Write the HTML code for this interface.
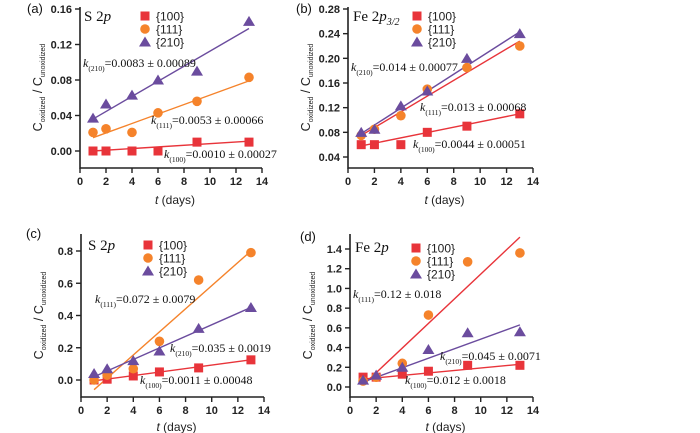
<!DOCTYPE html>
<html><head><meta charset="utf-8"><style>
html,body{margin:0;padding:0;background:#fff}
svg{display:block}
text{font-family:"Liberation Sans",Arial,sans-serif}
.ser{font-family:"Liberation Serif",serif}
</style></head><body>
<svg id="c" width="700" height="433" viewBox="0 0 700 433" xmlns="http://www.w3.org/2000/svg"></svg>
<script>
const days = [1, 2, 4, 6, 9, 13];
const facets = ['{100}', '{111}', '{210}'];
// panel a
const a100 = [0, 0, 0, 0, 0.01, 0.01];
const a111 = [0.021, 0.025, 0.021, 0.043, 0.056, 0.083];
const a210 = [0.037, 0.053, 0.063, 0.08, 0.09, 0.146];
const aFitStart = [0.0, 0.015, 0.036];
const aFitEnd = [0.011, 0.079, 0.138];
const aTicks = [0, 0.04, 0.08, 0.12, 0.16];
const aTickLabels = ['0.00', '0.04', '0.08', '0.12', '0.16'];
// panel b
const b100 = [0.06, 0.06, 0.06, 0.08, 0.09, 0.11];
const b111 = [0.075, 0.085, 0.107, 0.15, 0.185, 0.22];
const b210 = [0.08, 0.085, 0.123, 0.147, 0.2, 0.24];
const bFitStart = [0.058, 0.075, 0.078];
const bFitEnd = [0.11, 0.228, 0.243];
const bTicks = [0.04, 0.08, 0.12, 0.16, 0.2, 0.24, 0.28];
const bTickLabels = ['0.04', '0.08', '0.12', '0.16', '0.20', '0.24', '0.28'];
// panel c
const c100 = [0, 0.005, 0.025, 0.05, 0.075, 0.125];
const c111 = [0, 0.03, 0.07, 0.24, 0.62, 0.79];
const c210 = [0.04, 0.07, 0.12, 0.18, 0.32, 0.45];
const cFitStart = [-0.005, -0.06, 0.02];
const cFitEnd = [0.125, 0.8, 0.45];
const cTicks = [0, 0.2, 0.4, 0.6, 0.8];
const cTickLabels = ['0.0', '0.2', '0.4', '0.6', '0.8'];
// panel d
const d100 = [0.1, 0.1, 0.13, 0.16, 0.22, 0.22];
const d111 = [0.06, 0.1, 0.24, 0.73, 1.27, 1.36];
const d210 = [0.07, 0.12, 0.2, 0.38, 0.55, 0.56];
const dFitStart = [0.08, 0.02, 0.05];
const dFitEnd = [0.23, 1.52, 0.63];
const dTicks = [0, 0.2, 0.4, 0.6, 0.8, 1.0, 1.2, 1.4];
const dTickLabels = ['0.0', '0.2', '0.4', '0.6', '0.8', '1.0', '1.2', '1.4'];
const xTicks = [0, 2, 4, 6, 8, 10, 12, 14];

const NS = 'http://www.w3.org/2000/svg';
const svg = document.getElementById('c');
const RED = '#e8343a', ORG = '#f5832b', PUR = '#6b4c9e';
function mk(tag, attrs, parent) {
  const e = document.createElementNS(NS, tag);
  for (const k in attrs) e.setAttribute(k, attrs[k]);
  (parent || svg).appendChild(e);
  return e;
}
function marker(g, kind, x, y, col) {
  let e;
  if (kind === 0) e = mk('rect', {x: x - 4.5, y: y - 4.5, width: 9, height: 9, fill: col}, g);
  else if (kind === 1) e = mk('circle', {cx: x, cy: y, r: 4.8, fill: col}, g);
  else e = mk('polygon', {points: `${x},${y - 5.5} ${x + 6},${y + 4.5} ${x - 6},${y + 4.5}`, fill: col}, g);
  return e;
}
function kLabel(g, x, y, sub, txt) {
  const t = mk('text', {x: x, y: y, 'font-size': 12, class: 'ser', fill: '#111'}, g);
  t.innerHTML = `<tspan font-style="italic">k</tspan><tspan font-size="7.5" dy="4">(${sub})</tspan><tspan dy="-4">=${txt}</tspan>`;
  
  
}
function panel(cfg) {
  const g = mk('g', {});
  
  
  const X = v => cfg.x0 + (v - 0) * (cfg.x14 - cfg.x0) / 14;
  const Y = v => cfg.yA + (v - cfg.vA) * (cfg.yB - cfg.yA) / (cfg.vB - cfg.vA);
  const ax = mk('path', {d: `M${cfg.x0},${cfg.top} V${cfg.axY} H${cfg.x14}`, stroke: '#222', 'stroke-width': 1.6, fill: 'none'}, g);
  
  
  cfg.yTicks.forEach((v, i) => {
    const y = Y(v);
    mk('line', {x1: cfg.x0 - 5, x2: cfg.x0, y1: y, y2: y, stroke: '#222', 'stroke-width': 1.4}, g);
    const t = mk('text', {x: cfg.x0 - 8, y: y + 4, 'font-size': 11, 'font-weight': 'bold', 'text-anchor': 'end', fill: '#222'}, g);
    t.textContent = cfg.yLabels[i];
    
    
  });
  xTicks.forEach(v => {
    const x = X(v);
    mk('line', {x1: x, x2: x, y1: cfg.axY, y2: cfg.axY + 5, stroke: '#222', 'stroke-width': 1.4}, g);
    const t = mk('text', {x: x, y: cfg.axY + 17, 'font-size': 11, 'font-weight': 'bold', 'text-anchor': 'middle', fill: '#222'}, g);
    t.textContent = v;
    
    
  });
  const xt = mk('text', {x: (cfg.x0 + cfg.x14) / 2 + 4, y: cfg.axY + cfg.xtOff, 'font-size': 12, 'text-anchor': 'middle', fill: '#222'}, g);
  xt.innerHTML = '<tspan font-style="italic">t</tspan> (days)';
  
  
  const cy = (cfg.top + cfg.axY) / 2;
  const yt = mk('text', {x: 0, y: 0, 'font-size': 12.5, 'text-anchor': 'middle', fill: '#222', transform: `translate(${cfg.x0 - 38},${cy}) rotate(-90)`}, g);
  yt.innerHTML = 'C<tspan font-size="7" dy="3">oxidized</tspan><tspan dy="-3"> / C</tspan><tspan font-size="7" dy="3">unoxidized</tspan>';
  
  
  const lt = mk('text', {x: cfg.letter[0], y: cfg.letter[1], 'font-size': 13, fill: '#111'}, g);
  lt.textContent = '(' + cfg.id + ')';
  
  
  const tt = mk('text', {x: cfg.title[0], y: cfg.title[1], 'font-size': 15, class: 'ser', fill: '#111'}, g);
  tt.innerHTML = cfg.titleHtml;
  
  
  const lineCols = cfg.lineCols;
  cfg.fitStart.forEach((s, i) => {
    const l = mk('line', {x1: X(1), y1: Y(s), x2: X(13), y2: Y(cfg.fitEnd[i]), stroke: lineCols[i], 'stroke-width': 1.4}, g);
    
    
  });
  const cols = [RED, ORG, PUR];
  cfg.series.forEach((arr, k) => {
    arr.forEach((v, i) => {
      const m = marker(g, k, X(days[i]), Y(v), cols[k]);
      
      
    });
  });
  facets.forEach((f, k) => {
    const ly = cfg.leg[1] + k * 13;
    const m = marker(g, k, cfg.leg[0], ly, cols[k]);
    
    
    const t = mk('text', {x: cfg.leg[0] + 11, y: ly + 4.5, 'font-size': 12, fill: '#222'}, g);
    t.textContent = f;
    
    
  });
  cfg.ks.forEach(k => kLabel(g, k[0], k[1], k[2], k[3]));
}
panel({id: 'a', x0: 80, x14: 262, top: 7, axY: 168, xtOff: 36, vA: 0, yA: 151, vB: 0.16, yB: 9,
  yTicks: aTicks, yLabels: aTickLabels, series: [a100, a111, a210], fitStart: aFitStart, fitEnd: aFitEnd,
  lineCols: [RED, ORG, PUR], letter: [27, 13], title: [84, 21], titleHtml: 'S 2<tspan font-style="italic">p</tspan>',
  leg: [145, 16], ks: [[83, 67, '210', '0.0083 ± 0.00089'], [151, 124, '111', '0.0053 ± 0.00066'], [164, 158, '100', '0.0010 ± 0.00027']]});
panel({id: 'b', x0: 348, x14: 533, top: 7, axY: 168, xtOff: 36, vA: 0.04, yA: 157, vB: 0.28, yB: 9,
  yTicks: bTicks, yLabels: bTickLabels, series: [b100, b111, b210], fitStart: bFitStart, fitEnd: bFitEnd,
  lineCols: [RED, RED, PUR], letter: [296, 13], title: [353, 21], titleHtml: 'Fe 2<tspan font-style="italic">p</tspan><tspan font-style="italic" font-size="10" dy="4">3/2</tspan>',
  leg: [417, 16], ks: [[351, 71, '210', '0.014 ± 0.00077'], [420, 111, '111', '0.013 ± 0.00068'], [413, 148, '100', '0.0044 ± 0.00051']]});
panel({id: 'c', x0: 81, x14: 264, top: 234, axY: 397, xtOff: 34, vA: 0, yA: 380, vB: 0.8, yB: 251,
  yTicks: cTicks, yLabels: cTickLabels, series: [c100, c111, c210], fitStart: cFitStart, fitEnd: cFitEnd,
  lineCols: [RED, ORG, PUR], letter: [26, 238], title: [88, 250], titleHtml: 'S 2<tspan font-style="italic">p</tspan>',
  leg: [148, 245], ks: [[95, 303, '111', '0.072 ± 0.0079'], [170, 352, '210', '0.035 ± 0.0019'], [140, 384, '100', '0.0011 ± 0.00048']]});
panel({id: 'd', x0: 350, x14: 533, top: 234, axY: 397, xtOff: 34, vA: 0, yA: 387, vB: 1.4, yB: 249,
  yTicks: dTicks, yLabels: dTickLabels, series: [d100, d111, d210], fitStart: dFitStart, fitEnd: dFitEnd,
  lineCols: [RED, RED, PUR], letter: [300, 241], title: [355, 252], titleHtml: 'Fe 2<tspan font-style="italic">p</tspan>',
  leg: [416, 248], ks: [[353, 298, '111', '0.12 ± 0.018'], [440, 360, '210', '0.045 ± 0.0071'], [405, 384, '100', '0.012 ± 0.0018']]});
</script>
</body></html>
